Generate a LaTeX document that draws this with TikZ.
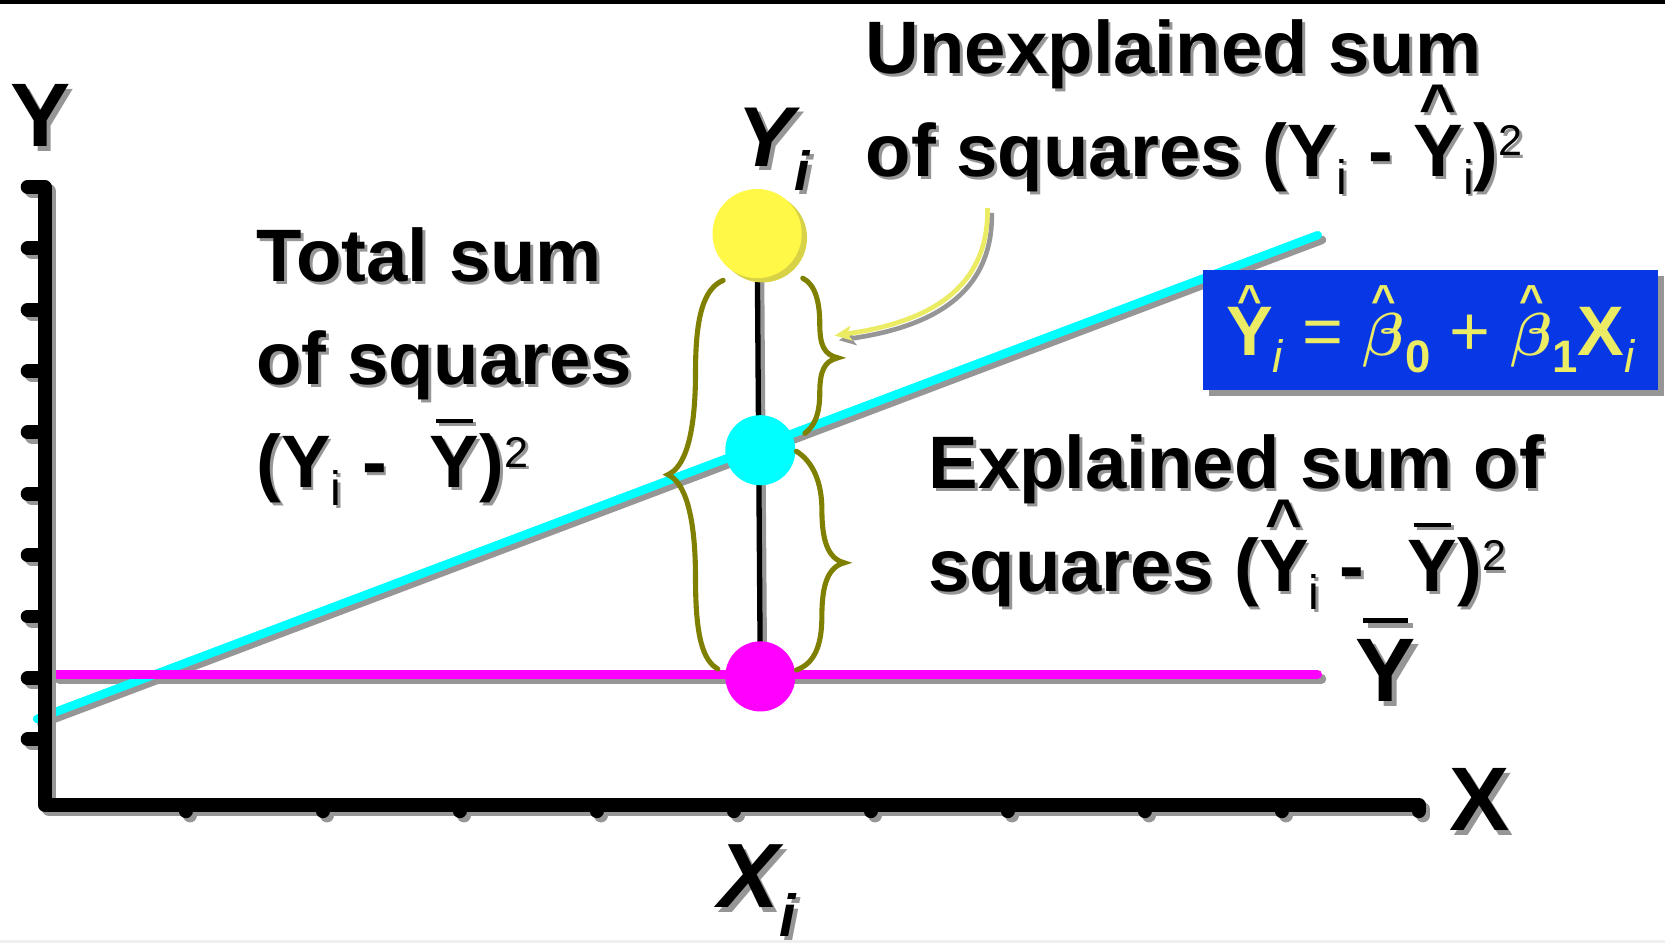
\documentclass[tikz,border=0pt]{standalone}
\usepackage{fontspec}
\setmainfont{Liberation Sans}
\usetikzlibrary{arrows.meta,positioning,calc,shadows}

\definecolor{shadowgray}{RGB}{150,150,150}
\definecolor{boxblue}{RGB}{8,56,230}
\definecolor{eqyellow}{RGB}{235,235,100}
\definecolor{braceolive}{RGB}{128,128,0}
\definecolor{dotyellow}{RGB}{255,248,70}
\definecolor{dotshade}{RGB}{215,210,70}
\definecolor{arrowyellow}{RGB}{235,235,100}
\definecolor{fitcyan}{RGB}{0,255,255}
\definecolor{meanmagenta}{RGB}{255,0,255}

% marks over letters, sub/superscripts, text drop shadow
\newsavebox\markbox
\newcommand\putabove[3]{\leavevmode\sbox\markbox{#3}\rlap{\smash{\makebox[\wd\markbox]{\raisebox{#2}{#1}}}}\usebox\markbox}
\newcommand\hatof[1]{\putabove{\scalebox{0.85}{\textasciicircum}}{0.64em}{#1}}
\newcommand\hatsm[1]{\putabove{\scalebox{0.6}{\textasciicircum}}{0.58em}{#1}}
\newcommand\barof[1]{\putabove{\rule{0.5em}{0.055em}}{0.87em}{#1}}
\newcommand\dn[2][0.24em]{\raisebox{-#1}{\scalebox{0.65}{\mdseries #2}}}
\newcommand\up[1]{\raisebox{0.28em}{\scalebox{0.58}{\mdseries #1}}}
\newcommand\shd[2][1.3pt]{\leavevmode\rlap{\kern#1\raisebox{-#1}{\color{shadowgray}#2}}#2}
\newcommand\bet{\scalebox{1.15}{\boldmath$\beta$}}

\begin{document}
\begin{tikzpicture}[x=0.5pt, y=-0.5pt,
  txt/.style={font=\fontsize{35}{48.5}\selectfont\bfseries, align=left, inner sep=0pt, anchor=base west},
  biglbl/.style={font=\fontsize{42.5}{42.5}\selectfont\bfseries, inner sep=0pt, anchor=base},
  axis/.style={line width=6.5pt, line cap=round, line join=round},
  dropped/.style={draw=shadowgray, transform canvas={shift={(2pt,-2.2pt)}}},
  dot/.style={circle, inner sep=0pt, minimum size=33pt},
  bracestroke/.style={draw=braceolive, line width=2.4pt, line cap=round},
  pointer/.style={line width=2.2pt, -{Stealth[length=8pt, width=7pt, inset=2pt]}},
  eqbox/.style={fill=boxblue, text=eqyellow, minimum width=214pt, minimum height=56.5pt, inner sep=0pt,
    text height=24pt, text depth=0pt,
    font=\fontsize{33}{33}\selectfont\bfseries,
    drop shadow={shadow xshift=3pt, shadow yshift=-3pt, fill=shadowgray, opacity=1}},
]
\path[use as bounding box, fill=white] (0,0) rectangle (1568,888);
\fill[black] (0,0) rectangle (1568,3.5);
\fill[black!6] (0,885) rectangle (1568,888);

\coordinate (fitL) at (35,677);
\coordinate (fitR) at (1241,221.5);
\coordinate (meanL) at (52,635);
\coordinate (meanR) at (1240.5,635);
\coordinate (ptyi) at (713,220);
\coordinate (ptyhat) at (716,424);
\coordinate (ptybar) at (716,637);
\coordinate (arrS) at (930,196);
\coordinate (arrE) at (786,316);

% shadows of the lines first
\draw[dropped, line width=4pt, line cap=round] (fitL) -- (fitR);
\draw[dropped, line width=4.5pt, line cap=round] (meanL) -- (meanR);
\draw[dropped, line width=2.5pt] (ptyi) -- (ptybar);

% fitted line, mean line, stem
\draw[fitcyan, line width=4pt, line cap=round] (fitL) -- (fitR);
\draw[meanmagenta, line width=4.5pt, line cap=round] (meanL) -- (meanR);
\draw[black, line width=2.5pt] (ptyi) -- (ptybar);

% axes with ticks
\foreach \axcol/\axoff in {shadowgray/4,black/0}
  \draw[axis, draw=\axcol, shift={(\axoff,\axoff)}]
    (26,176) -- (42,176) -- (42,758) -- (1334,758)
    \foreach \k in {1,...,9} {(26,176+57.8*\k) -- (42,176+57.8*\k)}
    \foreach \k in {0,...,9} {(175+129*\k,758) -- (175+129*\k,764)};

% points
\node[dot, fill=meanmagenta] (ybar) at (ptybar) {};
\node[dot, fill=fitcyan] (yhat) at (ptyhat) {};
\node[dot, fill=dotyellow, minimum size=42pt,
  drop shadow={shadow xshift=2.5pt, shadow yshift=-2pt, fill=dotshade, opacity=1}] (yi) at (ptyi) {};

% braces
\draw[bracestroke] (681,264) .. controls (662,272) and (655,300) .. (655,350)
  .. controls (655,410) and (645,440) .. (629,447)
  .. controls (645,454) and (655,485) .. (655,545)
  .. controls (655,600) and (662,622) .. (676,630);
\draw[bracestroke] (756,262) .. controls (768,268) and (772,285) .. (772,305)
  .. controls (772,325) and (776,334) .. (789,337)
  .. controls (776,340) and (772,350) .. (772,370)
  .. controls (772,392) and (766,402) .. (758,408);
\draw[bracestroke] (750,425) .. controls (766,435) and (774,455) .. (774,480)
  .. controls (774,510) and (780,526) .. (795,530)
  .. controls (780,534) and (774,550) .. (774,580)
  .. controls (774,610) and (766,625) .. (750,631);

% arrow to the unexplained part
\draw[dropped, pointer] (arrS) .. controls (931,265) and (885,302) .. (arrE);
\draw[arrowyellow, pointer] (arrS) .. controls (931,265) and (885,302) .. (arrE);

% equation box
\node[eqbox] (fiteq) at (1347,310.5)
  {\hatsm{Y}\dn{\itshape i} {\mdseries =} \hatsm{\bet}\dn{\bfseries 0} {\mdseries +} \hatsm{\bet}\dn{\bfseries 1}X\dn{\itshape i}};

% labels
\node[txt] (unexpl) at (815,166)
  {\shd{Unexplained sum}\\\shd{of squares (Y\dn{i} - \hatof{Y}\dn{i})\up{2}}};
\node[txt] (total) at (241,459.5)
  {\shd{Total sum}\\\shd{of squares}\\\shd{(Y\dn{i} -\hspace{0.58em}\barof{Y})\up{2}}};
\node[txt] (expl) at (874,557)
  {\shd{Explained sum of}\\\shd{squares (\hatof{Y}\dn{i} -\hspace{0.58em}\barof{Y})\up{2}}};

\node[biglbl] (ylab) at (38,138) {\shd[2.2pt]{Y}};
\node[biglbl] (xlab) at (1393,782) {\shd[2.2pt]{X}};
\node[biglbl] (ybarlab) at (1305,661) {\shd[2.2pt]{\barof{Y}}};
\node[biglbl, anchor=base west, font=\fontsize{40}{40}\selectfont\bfseries] (yilab) at (694,157)
  {\shd[2pt]{\itshape Y\dn[0.28em]{\bfseries\itshape i}}};
\node[biglbl, anchor=base west, font=\fontsize{43}{43}\selectfont\bfseries] (xilab) at (676,855)
  {\shd[2pt]{\itshape X\dn[0.31em]{\bfseries\itshape i}}};
\end{tikzpicture}
\end{document}
